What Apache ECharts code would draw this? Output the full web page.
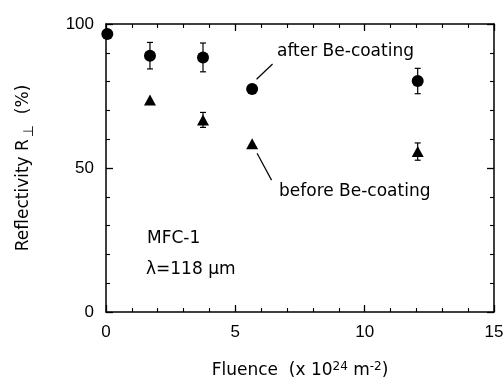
<!DOCTYPE html>
<html>
<head>
<meta charset="utf-8">
<script src="https://cdn.jsdelivr.net/npm/echarts@6/dist/echarts.min.js"></script>
<style>
  html, body { margin: 0; padding: 0; background: #fff; }
  #chart { width: 504px; height: 379px; }
</style>
</head>
<body>
<div id="chart"></div>
<script>
// fluence (x 10^24 m^-2), reflectivity (%), error (%)
const afterX = [0.05, 1.7, 3.75, 5.65, 12.05];
const afterY = [96.5, 89, 88.4, 77.4, 80.2];
const afterErr = [0, 4.6, 5, 1.3, 4.4];

const beforeX = [1.7, 3.75, 5.65, 12.05];
const beforeY = [73.6, 66.7, 58.4, 55.7];
const beforeErr = [0, 2.6, 0, 3];

const xTicks = [0, 5, 10, 15];
const yTicks = [0, 50, 100];

const FONT = 'Liberation Sans, Arial, sans-serif';
const WIDE = 'DejaVu Sans, sans-serif';

const pairs = (xs, ys, es) => xs.map((x, i) => [x, ys[i], es[i]]);

function errorBars(data) {
  return {
    type: 'custom',
    data: data,
    z: 1,
    renderItem: (params, api) => {
      const x = api.value(0), y = api.value(1), e = api.value(2);
      if (!e) return null;
      const top = api.coord([x, y + e]);
      const bot = api.coord([x, y - e]);
      const w = 3;
      const st = { stroke: '#000', lineWidth: 1.2 };
      return {
        type: 'group',
        children: [
          { type: 'line', shape: { x1: top[0], y1: top[1], x2: bot[0], y2: bot[1] }, style: st },
          { type: 'line', shape: { x1: top[0] - w, y1: top[1], x2: top[0] + w, y2: top[1] }, style: st },
          { type: 'line', shape: { x1: bot[0] - w, y1: bot[1], x2: bot[0] + w, y2: bot[1] }, style: st }
        ]
      };
    }
  };
}

const axisCommon = () => ({
  axisLine: { show: true, onZero: false, lineStyle: { color: '#000', width: 1.5 } },
  axisTick: { inside: true, length: 7, lineStyle: { color: '#000', width: 1.3 } },
  minorTick: { show: true, splitNumber: 5, length: 4, lineStyle: { color: '#000', width: 1.1 } },
  splitLine: { show: false }
});

const chart = echarts.init(document.getElementById('chart'));
chart.setOption({
  backgroundColor: '#fff',
  animation: false,
  textStyle: { fontFamily: FONT },
  grid: { left: 106, right: 10, top: 24, bottom: 67, outerBoundsMode: 'none', containLabel: false },
  xAxis: [
    Object.assign({
      type: 'value', min: 0, max: 15, interval: 5,
      axisLabel: { color: '#000', fontSize: 17, fontFamily: FONT, margin: 12,
        formatter: v => xTicks.includes(v) ? String(v) : '' },
      name: '{t|Fluence  (x 10}{s|24}{t| m}{s|-2}{t|)}',
      nameLocation: 'middle', nameGap: 49,
      nameTextStyle: {
        rich: {
          t: { fontSize: 17, fontFamily: WIDE, color: '#000' },
          s: { fontSize: 12, fontFamily: WIDE, color: '#000', verticalAlign: 'top', padding: [0, 0, 8, 0] }
        }
      }
    }, axisCommon()),
    Object.assign({
      type: 'value', min: 0, max: 15, interval: 5, position: 'top',
      axisLabel: { show: false }
    }, axisCommon())
  ],
  yAxis: [
    Object.assign({
      type: 'value', min: 0, max: 100, interval: 50,
      axisLabel: { color: '#000', fontSize: 17, fontFamily: FONT, margin: 12,
        formatter: v => yTicks.includes(v) ? String(v) : '' },
      name: '{t|Reflectivity R}{s|⊥}{t|  (%)}',
      nameLocation: 'middle', nameGap: 70, nameRotate: 90,
      nameTextStyle: {
        rich: {
          t: { fontSize: 17, fontFamily: WIDE, color: '#000' },
          s: { fontSize: 14, fontFamily: WIDE, color: '#000', padding: [10, 0, 0, 2] }
        }
      }
    }, axisCommon()),
    Object.assign({
      type: 'value', min: 0, max: 100, interval: 50, position: 'right',
      axisLabel: { show: false }
    }, axisCommon())
  ],
  series: [
    errorBars(pairs(afterX, afterY, afterErr)),
    errorBars(pairs(beforeX, beforeY, beforeErr)),
    {
      type: 'scatter', name: 'after Be-coating',
      data: pairs(afterX, afterY, afterErr),
      symbol: 'circle', symbolSize: 12,
      itemStyle: { color: '#000', opacity: 1 }, z: 3,
      markLine: {
        silent: true, symbol: 'none', label: { show: false },
        lineStyle: { color: '#000', width: 1.2, type: 'solid' },
        data: [[{ coord: [5.82, 80.8] }, { coord: [6.44, 86.1] }]]
      }
    },
    {
      type: 'scatter', name: 'before Be-coating',
      data: pairs(beforeX, beforeY, beforeErr),
      symbol: 'triangle', symbolSize: [12, 11],
      itemStyle: { color: '#000', opacity: 1 }, z: 3,
      markLine: {
        silent: true, symbol: 'none', label: { show: false },
        lineStyle: { color: '#000', width: 1.2, type: 'solid' },
        data: [[{ coord: [5.84, 55.1] }, { coord: [6.4, 45.8] }]]
      }
    }
  ],
  graphic: [
    { type: 'text', left: 277, top: 43, style: { text: 'after Be-coating', fontSize: 17, fontFamily: WIDE, fill: '#000' } },
    { type: 'text', left: 279, top: 183, style: { text: 'before Be-coating', fontSize: 17, fontFamily: WIDE, fill: '#000' } },
    { type: 'text', left: 147, top: 230, style: { text: 'MFC-1', fontSize: 17, fontFamily: WIDE, fill: '#000' } },
    { type: 'text', left: 146, top: 261, style: { text: 'λ=118 μm', fontSize: 17, fontFamily: WIDE, fill: '#000' } }
  ]
});
</script>
</body>
</html>
